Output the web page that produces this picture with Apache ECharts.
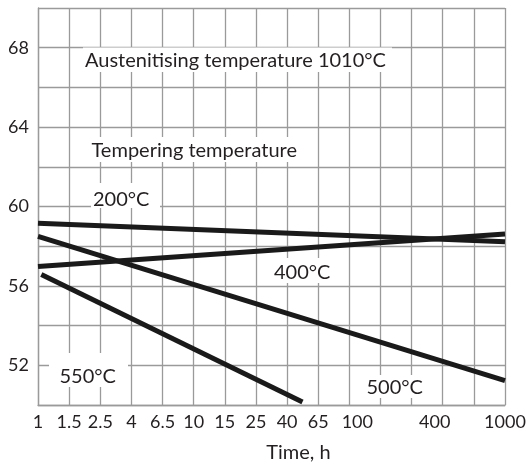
<!DOCTYPE html>
<html><head><meta charset="utf-8">
<script src="https://cdn.jsdelivr.net/npm/echarts@6/dist/echarts.min.js"></script>
<style>html,body{margin:0;padding:0;background:#fff}#c{width:531px;height:468px}</style>
</head><body><div id="c"></div>
<script>
// ---- data ----
const xTickLabels = ['1','1.5','2.5','4','6.5','10','15','25','40','65','100','','','400','','1000'];
const yTickLabels = [52, 56, 60, 64, 68];
const xAxisName = 'Time, h';
const seriesNames = ['200°C', '400°C', '500°C', '550°C'];
const time200 = [1, 1000];
const hrc200  = [59.15, 58.23];
const time400 = [1, 1000];
const hrc400  = [56.98, 58.62];
const time500 = [1, 1000];
const hrc500  = [58.5, 51.23];
const time550 = [1.05, 50];
const hrc550  = [56.57, 50.15];
const noteTexts = ['Austenitising temperature 1010°C', 'Tempering temperature', '200°C', '400°C', '550°C', '500°C'];

const zip = (a, b) => a.map((v, i) => [v, b[i]]);
const FONT = 'Lato';
const chart = echarts.init(document.getElementById('c'), null, {renderer: 'canvas'});

function lineSeries(name, t, v) {
  return {
    name, type: 'line', data: zip(t, v), showSymbol: false, symbol: 'none',
    lineStyle: {color: '#1a1a1a', width: 5, cap: 'butt'}, z: 5, silent: true
  };
}

// white boxes behind annotation texts, and the texts
const boxes = [
  [83, 47.5, 309, 24.5],
  [87, 137, 211, 25],
  [91, 183, 69, 25],
  [270, 258, 62, 25],
  [49, 353, 79, 34],
  [355, 375, 70, 23]
];
const textPos = [
  [85, 60.9], [91.5, 150.2], [93, 199.5], [274, 272.9], [59.5, 376.2], [366.5, 387.5]
];
const graphics = [];
boxes.forEach(b => graphics.push({type: 'rect', shape: {x: b[0], y: b[1], width: b[2], height: b[3]}, style: {fill: '#fff'}, z: 1, silent: true}));
noteTexts.forEach((t, i) => graphics.push({
  type: 'text', x: textPos[i][0], y: textPos[i][1], z: 2, silent: true,
  style: {text: t, font: '20px ' + FONT, fill: '#231f20', textVerticalAlign: 'middle', verticalAlign: 'middle', align: 'left'}
}));

chart.setOption({
  animation: false,
  backgroundColor: '#fff',
  grid: {left: 38, right: 26, top: 8, bottom: 60, containLabel: false},
  xAxis: {
    type: 'log', logBase: 10, min: 1, max: 1000, interval: 0.2,
    name: xAxisName, nameLocation: 'middle', nameGap: 38,
    nameTextStyle: {fontFamily: FONT, fontSize: 20, color: '#231f20', padding: [0, 0, 0, 54]},
    axisLine: {show: true, lineStyle: {color: '#9a9a9a', width: 1.3}},
    axisTick: {show: false},
    splitLine: {show: true, lineStyle: {color: '#9a9a9a', width: 1.3}},
    minorTick: {show: false}, minorSplitLine: {show: false},
    axisLabel: {
      fontFamily: FONT, fontSize: 18, color: '#231f20', margin: 8, showMinLabel: true, showMaxLabel: true, hideOverlap: false,
      formatter: function (v) {
        const idx = Math.round(Math.log10(v) * 5);
        const s = xTickLabels[idx] || '';
        if (s === '100') return '{r|' + s + '}';
        if (s === '400') return '{l|' + s + '}';
        return s;
      },
      rich: {
        r: {fontFamily: FONT, fontSize: 18, color: '#231f20', padding: [0, 0, 0, 16]},
        l: {fontFamily: FONT, fontSize: 18, color: '#231f20', padding: [0, 16, 0, 0]}
      }
    }
  },
  yAxis: {
    type: 'value', min: 50, max: 70, interval: 2,
    axisLine: {show: true, lineStyle: {color: '#9a9a9a', width: 1.3}},
    axisTick: {show: false},
    splitLine: {show: true, lineStyle: {color: '#9a9a9a', width: 1.3}},
    axisLabel: {
      fontFamily: FONT, fontSize: 18, color: '#231f20', margin: 9,
      formatter: v => yTickLabels.indexOf(v) >= 0 ? String(v) : ''
    }
  },
  graphic: graphics,
  series: [
    lineSeries(seriesNames[0], time200, hrc200),
    lineSeries(seriesNames[1], time400, hrc400),
    lineSeries(seriesNames[2], time500, hrc500),
    lineSeries(seriesNames[3], time550, hrc550)
  ]
});
</script>
</body></html>
